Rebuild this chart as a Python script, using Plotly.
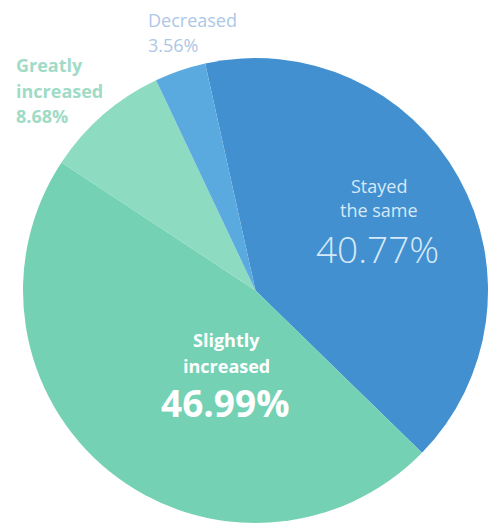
import plotly.graph_objects as go

categories = ["Stayed the same", "Slightly increased", "Greatly increased", "Decreased"]
values = [40.77, 46.99, 8.68, 3.56]
label_lines = [["Stayed", "the same"], ["Slightly", "increased"], ["Greatly", "increased"], ["Decreased"]]
colors = ["#4290cf", "#74d1b4", "#8ddbc1", "#5aa9df"]

W, H = 491, 527
cx, cy, r = 255.5, 290.5, 232.5

fig = go.Figure(go.Pie(
    labels=categories,
    values=values,
    sort=False,
    direction="clockwise",
    rotation=-12.5,
    marker=dict(colors=colors, line=dict(width=0)),
    textinfo="none",
    hoverinfo="label+percent",
    showlegend=False,
    domain=dict(x=[(cx - r) / W, (cx + r) / W], y=[(H - cy - r) / H, (H - cy + r) / H]),
))

def px(x, y):
    return x / W, 1 - y / H

FONT = "Open Sans"
items = [
    # text, (x, y), size, color, weight, anchor
    (label_lines[0][0], (379, 186), 18, "#d6e9f8", 400, "center"),
    (label_lines[0][1], (379, 210), 18, "#d6e9f8", 400, "center"),
    (f"{values[0]:.2f}%", (377, 248), 37, "#d6e9f8", 300, "center"),
    (label_lines[1][0], (226, 340), 18, "#ffffff", 700, "center"),
    (label_lines[1][1], (226, 366), 18, "#ffffff", 700, "center"),
    (f"{values[1]:.2f}%", (225, 402), 37, "#ffffff", 700, "center"),
    (label_lines[2][0], (14, 65), 18, "#a0dbc6", 700, "left"),
    (label_lines[2][1], (14, 91), 18, "#a0dbc6", 700, "left"),
    (f"{values[2]:.2f}%", (14, 116), 18, "#a0dbc6", 700, "left"),
    (label_lines[3][0], (146, 20), 18, "#adc7e6", 400, "left"),
    (f"{values[3]:.2f}%", (146, 45), 18, "#adc7e6", 400, "left"),
]

anns = []
for txt, pos, size, col, weight, anchor in items:
    x, y = px(*pos)
    anns.append(dict(
        x=x, y=y, xref="paper", yref="paper", text=txt, showarrow=False,
        xanchor=anchor, yanchor="middle", align=anchor,
        font=dict(family=FONT, size=size, color=col, weight=weight),
    ))

fig.update_layout(
    width=W, height=H,
    margin=dict(l=0, r=0, t=0, b=0),
    paper_bgcolor="white",
    plot_bgcolor="white",
    annotations=anns,
)

fig.write_html(
    "out.html",
    config={"displayModeBar": False},
    post_script="document.body.style.margin='0';document.body.style.overflow='hidden';",
)
